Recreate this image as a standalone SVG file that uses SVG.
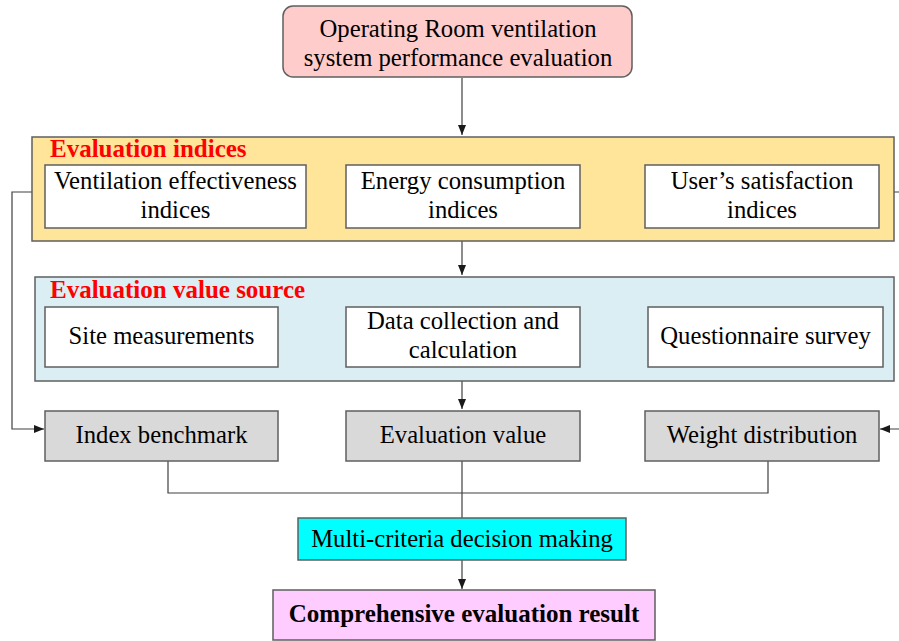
<svg xmlns="http://www.w3.org/2000/svg" width="899" height="641" viewBox="0 0 899 641">
<defs>
<marker id="arr" viewBox="0 0 10 8" refX="10" refY="4" markerWidth="10" markerHeight="8" markerUnits="userSpaceOnUse" orient="auto">
<path d="M0,0 L10,4 L0,8 z" fill="#1a1a1a"/>
</marker>
<style>
text{font-family:"Liberation Serif","Times New Roman",serif;font-size:24.7px;fill:#000;text-anchor:middle}
.title{font-weight:bold;fill:#ff0000;text-anchor:start;font-size:25px}
.bold{font-weight:bold;font-size:25px}
.box{stroke:#5f5f5f;stroke-width:1.5}
.white{fill:#ffffff}
.gray{fill:#d9d9d9}
.conn{fill:none;stroke:#404040;stroke-width:1.2}
</style>
</defs>
<rect width="899" height="641" fill="#ffffff"/>

<g id="connectors">
<path class="conn" d="M462,78 V135" marker-end="url(#arr)"/>
<path class="conn" d="M462,241 V275" marker-end="url(#arr)"/>
<path class="conn" d="M462,381 V409" marker-end="url(#arr)"/>
<path class="conn" d="M32,192 H12 V429 H44" marker-end="url(#arr)"/>
<path class="conn" d="M894,192 H901 V429 H880" marker-end="url(#arr)"/>
<path class="conn" d="M168,461 V493 H768 V461"/>
<path class="conn" d="M462,461 V518"/>
<path class="conn" d="M462,560 V589" marker-end="url(#arr)"/>
</g>

<g id="top">
<rect class="box" x="283" y="6" width="349" height="71" rx="10" fill="#ffcccc"/>
<text x="458" y="37">Operating Room ventilation</text>
<text x="458" y="66">system performance evaluation</text>
</g>

<g id="indices">
<rect class="box" x="32" y="137" width="862" height="104" fill="#ffe599"/>
<text class="title" x="50" y="157">Evaluation indices</text>
</g>
<g id="vent">
<rect class="box white" x="45" y="165" width="261" height="63"/>
<text x="175.5" y="189">Ventilation effectiveness</text>
<text x="175.5" y="218">indices</text>
</g>
<g id="energy">
<rect class="box white" x="346" y="165" width="234" height="63"/>
<text x="463" y="189">Energy consumption</text>
<text x="463" y="218">indices</text>
</g>
<g id="user">
<rect class="box white" x="645" y="165" width="234" height="63"/>
<text x="762" y="189">User’s satisfaction</text>
<text x="762" y="218">indices</text>
</g>

<g id="source">
<rect class="box" x="35" y="277" width="859" height="104" fill="#daeef3"/>
<text class="title" x="50" y="298">Evaluation value source</text>
</g>
<g id="site">
<rect class="box white" x="45" y="307" width="233" height="60"/>
<text x="161.5" y="344">Site measurements</text>
</g>
<g id="data">
<rect class="box white" x="346" y="307" width="234" height="60"/>
<text x="463" y="329">Data collection and</text>
<text x="463" y="358">calculation</text>
</g>
<g id="quest">
<rect class="box white" x="648" y="307" width="235" height="60"/>
<text x="765.5" y="344">Questionnaire survey</text>
</g>

<g id="benchmark">
<rect class="box gray" x="45" y="411" width="233" height="50"/>
<text x="161.5" y="443">Index benchmark</text>
</g>
<g id="evalvalue">
<rect class="box gray" x="346" y="411" width="234" height="50"/>
<text x="463" y="443">Evaluation value</text>
</g>
<g id="weight">
<rect class="box gray" x="645" y="411" width="234" height="50"/>
<text x="762" y="443">Weight distribution</text>
</g>

<g id="mcdm">
<rect class="box" x="298" y="518" width="328" height="42" fill="#00ffff"/>
<text x="462" y="547">Multi-criteria decision making</text>
</g>
<g id="result">
<rect class="box" x="273" y="590" width="382" height="50" fill="#ffccff"/>
<text class="bold" x="464" y="622">Comprehensive evaluation result</text>
</g>
</svg>
